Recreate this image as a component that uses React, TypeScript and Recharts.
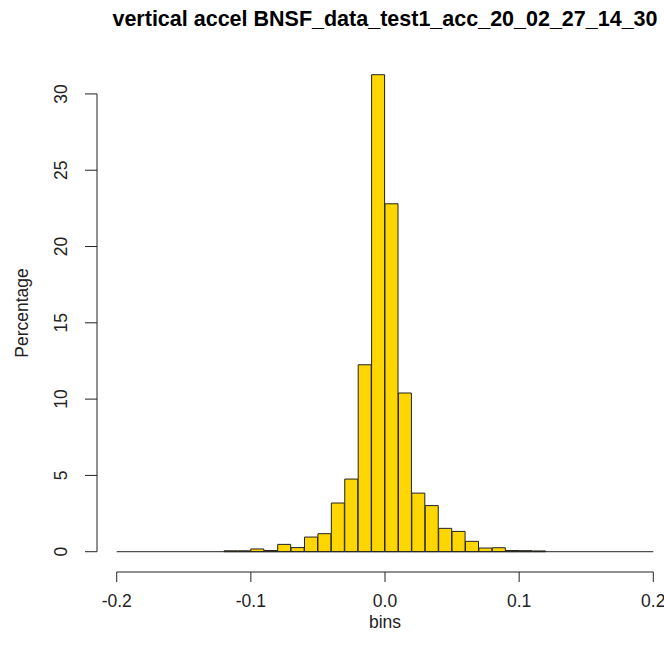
import { BarChart, Bar, XAxis, YAxis, ReferenceLine } from 'recharts'

// histogram bins of width 0.01 from -0.2 to 0.2 (bin mid-points)
const binMids = [
  -0.195, -0.185, -0.175, -0.165, -0.155, -0.145, -0.135, -0.125,
  -0.115, -0.105, -0.095, -0.085, -0.075, -0.065, -0.055, -0.045,
  -0.035, -0.025, -0.015, -0.005, 0.005, 0.015, 0.025, 0.035,
  0.045, 0.055, 0.065, 0.075, 0.085, 0.095, 0.105, 0.115,
  0.125, 0.135, 0.145, 0.155, 0.165, 0.175, 0.185, 0.195,
]

const percentages = [
  0, 0, 0, 0, 0, 0, 0, 0,
  0.06, 0.06, 0.18, 0.08, 0.48, 0.27, 0.96, 1.18,
  3.19, 4.76, 12.25, 31.26, 22.8, 10.4, 3.84, 3.02,
  1.53, 1.33, 0.68, 0.24, 0.26, 0.08, 0.07, 0.05,
  0, 0, 0, 0, 0, 0, 0, 0,
]

const xTicks = [-0.2, -0.1, 0, 0.1, 0.2]
const yTicks = [0, 5, 10, 15, 20, 25, 30]

const title = 'vertical accel BNSF_data_test1_acc_20_02_27_14_30'

const data = binMids.map((mid, i) => ({ mid, pct: percentages[i] }))

const FONT = '"Liberation Sans", Arial, sans-serif'
const INK = '#222'

function YTick(props: any) {
  const { x, y, payload } = props
  return (
    <text
      x={x}
      y={y}
      dy="0.35em"
      transform={`rotate(-90, ${x}, ${y})`}
      textAnchor="middle"
      fontSize={17.5}
      fontFamily={FONT}
      fill={INK}
    >
      {payload.value}
    </text>
  )
}

export default function App() {
  return (
    <div
      style={{
        position: 'absolute',
        left: 0,
        top: 0,
        width: 664,
        height: 657,
        overflow: 'hidden',
        background: '#fff',
      }}
    >
      <BarChart
        width={673}
        height={657}
        data={data}
        margin={{ top: 30, right: 0, left: 0, bottom: 0 }}
        barCategoryGap={0}
        barGap={0}
      >
        <XAxis
          dataKey="mid"
          type="number"
          domain={[-0.2147, 0.2147]}
          allowDataOverflow
          ticks={xTicks}
          tickFormatter={(v: number) => v.toFixed(1)}
          interval={0}
          height={85}
          tickSize={10}
          tickMargin={13}
          axisLine={false}
          tickLine={{ stroke: INK }}
          tick={{ fontSize: 17.5, fontFamily: FONT, fill: INK }}
        />
        <YAxis
          type="number"
          domain={[-1.33, 34.19]}
          allowDataOverflow
          ticks={yTicks}
          interval={0}
          width={97}
          tickSize={12}
          tickMargin={24}
          axisLine={false}
          tickLine={{ stroke: INK }}
          tick={<YTick />}
        />
        {/* R-style axis lines spanning only the tick range */}
        <ReferenceLine
          segment={[{ x: -0.2, y: -1.33 }, { x: 0.2, y: -1.33 }]}
          stroke={INK}
          ifOverflow="visible"
        />
        <ReferenceLine
          segment={[{ x: -0.2147, y: 0 }, { x: -0.2147, y: 30 }]}
          stroke={INK}
          ifOverflow="visible"
        />
        {/* zero-height bins show as a baseline */}
        <ReferenceLine
          segment={[{ x: -0.2, y: 0 }, { x: 0.2, y: 0 }]}
          stroke={INK}
          ifOverflow="visible"
        />
        <Bar
          dataKey="pct"
          fill="#FFD700"
          stroke={INK}
          strokeWidth={1}
          isAnimationActive={false}
        />
      </BarChart>
      <svg
        width={664}
        height={657}
        style={{ position: 'absolute', left: 0, top: 0, pointerEvents: 'none' }}
      >
        <text
          x={385}
          y={18}
          dy="0.35em"
          textAnchor="middle"
          fontSize={21.5}
          fontWeight="bold"
          fontFamily={FONT}
          fill="#000"
        >
          {title}
        </text>
        <text
          x={385}
          y={622}
          dy="0.35em"
          textAnchor="middle"
          fontSize={17.5}
          fontFamily={FONT}
          fill={INK}
        >
          bins
        </text>
        <text
          x={22}
          y={313}
          dy="0.35em"
          transform="rotate(-90, 22, 313)"
          textAnchor="middle"
          fontSize={17.5}
          fontFamily={FONT}
          fill={INK}
        >
          Percentage
        </text>
      </svg>
    </div>
  )
}
